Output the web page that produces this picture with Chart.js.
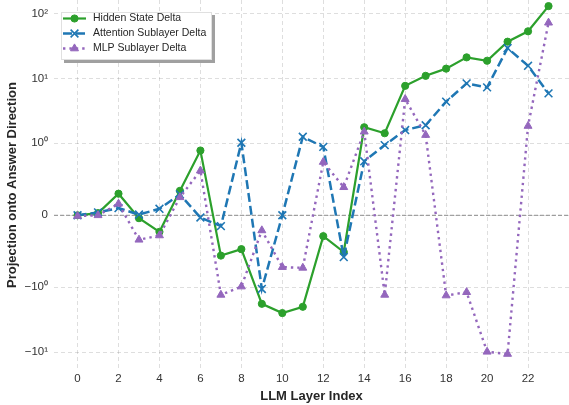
<!DOCTYPE html>
<html>
<head>
<meta charset="utf-8">
<script src="https://cdn.jsdelivr.net/npm/chart.js@4.4.1/dist/chart.umd.min.js"></script>
<style>
  body { margin: 0; background: #fff; }
  canvas { display: block; }
</style>
</head>
<body>
<canvas id="mycanvas" width="569" height="405"></canvas>
<script>
// layer index on x, projection value on y (symlog)
var layers = [];
for (var i = 0; i < 24; i++) layers.push(i);

var hiddenDelta = [0, 0.03, 0.30, -0.04, -0.23, 0.34, 0.90, -0.56, -0.47, -1.8, -2.5, -2.0,
                   -0.29, -0.51, 1.77, 1.43, 7.7, 11.0, 14.2, 21.2, 18.8, 37, 53.5, 131];
var attnDelta = [0, 0.04, 0.10, 0.01, 0.09, 0.29, -0.03, -0.15, 1.02, -1.06, 0, 1.26,
                 0.95, -0.58, 0.75, 0.975, 1.6, 1.9, 4.4, 8.4, 7.3, 29.5, 15.7, 5.9];
var mlpDelta = [-0.01, 0, 0.16, -0.34, -0.28, 0.25, 0.62, -1.31, -0.99, -0.21, -0.72, -0.73,
                0.74, 0.39, 1.51, -1.31, 4.8, 1.34, -1.34, -1.19, -9.9, -10.7, 1.85, 72.6];

var xTicks = [0, 2, 4, 6, 8, 10, 12, 14, 16, 18, 20, 22];
var yTickValues = [-10, -1, 0, 1, 10, 100];
var yTickLabels = ['\u221210\u00b9', '\u221210\u2070', '0', '10\u2070', '10\u00b9', '10\u00b2'];

// symlog transform, linthresh 1, linscale 1, base 10 (same as matplotlib)
var LIN = 1 / (1 - 1 / 10);
function fwd(v) {
    var a = Math.abs(v);
    return a <= 1 ? v * LIN : Math.sign(v) * (LIN + Math.log10(a));
}
function inv(t) {
    var a = Math.abs(t);
    return a <= LIN ? t / LIN : Math.sign(t) * Math.pow(10, a - LIN);
}

class SymlogScale extends Chart.LinearScale {
    buildTicks() {
        return yTickValues.map(function(v) { return { value: v }; });
    }
    configure() {
        super.configure();
        this._tMin = fwd(this.min);
        this._tMax = fwd(this.max);
    }
    getPixelForValue(v) {
        return this.getPixelForDecimal((fwd(v) - this._tMin) / (this._tMax - this._tMin));
    }
    getValueForPixel(p) {
        return inv(this._tMin + this.getDecimalForPixel(p) * (this._tMax - this._tMin));
    }
}
SymlogScale.id = 'symlog';
SymlogScale.defaults = {};
Chart.register(SymlogScale);

function pts(arr) {
    return arr.map(function(v, i) { return { x: layers[i], y: v }; });
}

var FONT = "'Liberation Sans', Arial, sans-serif";
var gridCol = 'rgba(0,0,0,0.13)';

var zeroLine = {
    id: 'zeroLine',
    beforeDatasetsDraw: function(chart) {
        var ctx = chart.ctx, a = chart.chartArea;
        var y = chart.scales.y.getPixelForValue(0);
        ctx.save();
        ctx.strokeStyle = '#8c8c8c';
        ctx.lineWidth = 1;
        ctx.setLineDash([4, 2]);
        ctx.beginPath();
        ctx.moveTo(a.left, y);
        ctx.lineTo(a.right, y);
        ctx.stroke();
        ctx.restore();
    }
};

var boxLegend = {
    id: 'boxLegend',
    afterDraw: function(chart) {
        var ctx = chart.ctx;
        var bx = 61, by = 12, bw = 151, bh = 48;
        ctx.save();
        ctx.fillStyle = '#a0a0a0';
        ctx.fillRect(bx + 3, by + 3, bw, bh);
        ctx.fillStyle = '#fff';
        ctx.fillRect(bx, by, bw, bh);
        ctx.strokeStyle = '#e0e0e0';
        ctx.lineWidth = 1;
        ctx.strokeRect(bx + 0.5, by + 0.5, bw - 1, bh - 1);
        chart.data.datasets.forEach(function(ds, i) {
            var y = 18.5 + i * 15;
            ctx.save();
            ctx.strokeStyle = ds.borderColor;
            ctx.lineWidth = ds.borderWidth;
            ctx.setLineDash(ds.borderDash || []);
            ctx.beginPath();
            ctx.moveTo(63, y);
            ctx.lineTo(86, y);
            ctx.stroke();
            ctx.setLineDash([]);
            ctx.fillStyle = ds.backgroundColor;
            ctx.strokeStyle = ds.borderColor;
            ctx.lineWidth = ds.pointBorderWidth;
            Chart.helpers.drawPoint(ctx, {
                pointStyle: ds.pointStyle,
                radius: ds.pointRadius,
                borderWidth: ds.pointBorderWidth,
                rotation: 0
            }, 74.5, y);
            ctx.restore();
            ctx.fillStyle = '#262626';
            ctx.font = '10.5px ' + FONT;
            ctx.textBaseline = 'middle';
            ctx.fillText(ds.label, 93, y);
        });
        ctx.restore();
    }
};

var ctx = document.getElementById('mycanvas').getContext('2d');

var lineChart = new Chart(ctx, {
    type: 'line',
    data: {
        datasets: [{
            label: 'Hidden State Delta',
            data: pts(hiddenDelta),
            borderColor: '#2ca02c',
            backgroundColor: '#2ca02c',
            borderWidth: 2.2,
            pointStyle: 'circle',
            pointRadius: 3.6,
            pointBorderWidth: 1,
            order: 3
        }, {
            label: 'Attention Sublayer Delta',
            data: pts(attnDelta),
            borderColor: '#1f77b4',
            backgroundColor: '#1f77b4',
            borderWidth: 2.5,
            borderDash: [9, 4],
            pointStyle: 'crossRot',
            pointRadius: 5.5,
            pointBorderWidth: 1.6,
            order: 2
        }, {
            label: 'MLP Sublayer Delta',
            data: pts(mlpDelta),
            borderColor: '#9467bd',
            backgroundColor: '#9467bd',
            borderWidth: 2.4,
            borderDash: [2.4, 4],
            pointStyle: 'triangle',
            pointRadius: 4.6,
            pointBorderWidth: 1,
            order: 1
        }]
    },
    options: {
        responsive: false,
        animation: false,
        layout: { padding: 0, autoPadding: false },
        elements: { line: { tension: 0, fill: false } },
        datasets: { line: { clip: false } },
        plugins: {
            legend: { display: false },
            tooltip: { enabled: false }
        },
        scales: {
            x: {
                type: 'linear',
                min: -1.15,
                max: 24.0,
                afterBuildTicks: function(s) {
                    s.ticks = xTicks.map(function(v) { return { value: v }; });
                },
                afterFit: function(s) {
                    s.height = 35;
                    s.paddingLeft = 0;
                    s.paddingRight = 0;
                },
                grid: { color: gridCol, lineWidth: 1, drawTicks: false },
                border: { display: false, dash: [4, 3] },
                ticks: {
                    autoSkip: false,
                    maxRotation: 0,
                    padding: 2,
                    color: '#333',
                    font: { family: FONT, size: 11.5 }
                },
                title: {
                    display: true,
                    text: 'LLM Layer Index',
                    color: '#262626',
                    font: { family: FONT, size: 13, weight: 'bold' },
                    padding: { top: 0, bottom: 1 }
                }
            },
            y: {
                type: 'symlog',
                min: -18.9,
                max: 162.8,
                afterFit: function(s) {
                    s.width = 54;
                    s.paddingTop = 0;
                    s.paddingBottom = 0;
                },
                grid: { color: gridCol, lineWidth: 1, drawTicks: false },
                border: { display: false, dash: [4, 3] },
                ticks: {
                    padding: 6,
                    color: '#333',
                    font: { family: FONT, size: 11.5 },
                    callback: function(v, i) { return yTickLabels[i]; }
                },
                title: {
                    display: true,
                    text: 'Projection onto Answer Direction',
                    color: '#262626',
                    font: { family: FONT, size: 13, weight: 'bold' },
                    padding: { top: 5, bottom: 0 }
                }
            }
        }
    },
    plugins: [zeroLine, boxLegend]
});
</script>
</body>
</html>
